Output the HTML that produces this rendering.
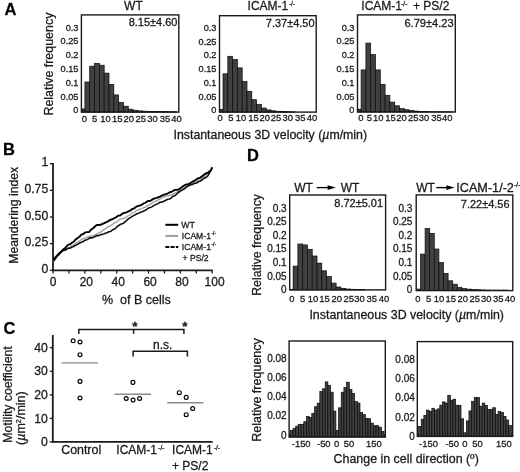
<!DOCTYPE html>
<html><head><meta charset="utf-8"><style>
html,body{margin:0;padding:0;background:#fff;}
body{width:520px;height:472px;overflow:hidden;font-family:"Liberation Sans",sans-serif;}
svg{display:block;filter:grayscale(1) blur(0.4px);}
text{font-family:"Liberation Sans",sans-serif;white-space:pre;stroke:#1a1a1a;stroke-width:0.28px;}
</style></head><body>
<svg width="520" height="472" viewBox="0 0 520 472" font-family="Liberation Sans, sans-serif">
<rect x="0" y="0" width="520" height="472" fill="#fff"/>
<text x="4.40" y="14.70" font-size="16.5" text-anchor="start" fill="#000" font-weight="bold">A</text>
<text x="3.10" y="154.70" font-size="16.5" text-anchor="start" fill="#000" font-weight="bold">B</text>
<text x="3.50" y="334.40" font-size="16.5" text-anchor="start" fill="#000" font-weight="bold">C</text>
<text x="247.00" y="161.10" font-size="16.5" text-anchor="start" fill="#000" font-weight="bold">D</text>
<rect x="82.00" y="108.90" width="2.90" height="3.20" fill="#404040" stroke="#0a0a0a" stroke-width="0.7"/>
<rect x="84.90" y="82.00" width="4.82" height="30.10" fill="#404040" stroke="#0a0a0a" stroke-width="0.7"/>
<rect x="89.72" y="66.20" width="4.82" height="45.90" fill="#404040" stroke="#0a0a0a" stroke-width="0.7"/>
<rect x="94.54" y="63.40" width="4.82" height="48.70" fill="#404040" stroke="#0a0a0a" stroke-width="0.7"/>
<rect x="99.36" y="65.20" width="4.82" height="46.90" fill="#404040" stroke="#0a0a0a" stroke-width="0.7"/>
<rect x="104.18" y="73.10" width="4.82" height="39.00" fill="#404040" stroke="#0a0a0a" stroke-width="0.7"/>
<rect x="109.00" y="84.40" width="4.82" height="27.70" fill="#404040" stroke="#0a0a0a" stroke-width="0.7"/>
<rect x="113.82" y="94.90" width="4.82" height="17.20" fill="#404040" stroke="#0a0a0a" stroke-width="0.7"/>
<rect x="118.64" y="102.30" width="4.82" height="9.80" fill="#404040" stroke="#0a0a0a" stroke-width="0.7"/>
<rect x="123.46" y="106.20" width="4.82" height="5.90" fill="#404040" stroke="#0a0a0a" stroke-width="0.7"/>
<rect x="128.28" y="109.20" width="4.82" height="2.90" fill="#404040" stroke="#0a0a0a" stroke-width="0.7"/>
<rect x="133.10" y="110.30" width="4.82" height="1.80" fill="#404040" stroke="#0a0a0a" stroke-width="0.7"/>
<rect x="137.92" y="110.90" width="4.82" height="1.20" fill="#404040" stroke="#0a0a0a" stroke-width="0.7"/>
<rect x="142.74" y="111.20" width="4.82" height="0.90" fill="#404040" stroke="#0a0a0a" stroke-width="0.7"/>
<rect x="147.56" y="111.40" width="4.82" height="0.70" fill="#404040" stroke="#0a0a0a" stroke-width="0.7"/>
<rect x="152.38" y="111.50" width="4.82" height="0.60" fill="#404040" stroke="#0a0a0a" stroke-width="0.7"/>
<rect x="157.20" y="111.60" width="4.82" height="0.50" fill="#404040" stroke="#0a0a0a" stroke-width="0.7"/>
<rect x="162.02" y="111.60" width="4.82" height="0.50" fill="#404040" stroke="#0a0a0a" stroke-width="0.7"/>
<rect x="166.84" y="111.70" width="4.82" height="0.40" fill="#404040" stroke="#0a0a0a" stroke-width="0.7"/>
<rect x="171.66" y="111.70" width="4.82" height="0.40" fill="#404040" stroke="#0a0a0a" stroke-width="0.7"/>
<rect x="81.40" y="14.90" width="97.40" height="97.20" fill="none" stroke="#1a1a1a" stroke-width="1.4"/>
<text x="0" y="0" font-size="9.2" text-anchor="end" fill="#1a1a1a" transform="translate(78.40 30.70) scale(1 1.045)">0.3</text>
<text x="0" y="0" font-size="9.2" text-anchor="end" fill="#1a1a1a" transform="translate(78.40 44.40) scale(1 1.045)">0.25</text>
<text x="0" y="0" font-size="9.2" text-anchor="end" fill="#1a1a1a" transform="translate(78.40 57.80) scale(1 1.045)">0.2</text>
<text x="0" y="0" font-size="9.2" text-anchor="end" fill="#1a1a1a" transform="translate(78.40 71.50) scale(1 1.045)">0.15</text>
<text x="0" y="0" font-size="9.2" text-anchor="end" fill="#1a1a1a" transform="translate(78.40 85.80) scale(1 1.045)">0.1</text>
<text x="0" y="0" font-size="9.2" text-anchor="end" fill="#1a1a1a" transform="translate(78.40 99.50) scale(1 1.045)">0.05</text>
<text x="0" y="0" font-size="9.2" text-anchor="end" fill="#1a1a1a" transform="translate(78.40 112.90) scale(1 1.045)">0</text>
<text x="84.30" y="122.00" font-size="9.4" text-anchor="middle" fill="#1a1a1a">0</text>
<text x="94.70" y="122.00" font-size="9.4" text-anchor="middle" fill="#1a1a1a">5</text>
<text x="105.40" y="122.00" font-size="9.4" text-anchor="middle" fill="#1a1a1a">10</text>
<text x="117.20" y="122.00" font-size="9.4" text-anchor="middle" fill="#1a1a1a">15</text>
<text x="128.80" y="122.00" font-size="9.4" text-anchor="middle" fill="#1a1a1a">20</text>
<text x="140.80" y="122.00" font-size="9.4" text-anchor="middle" fill="#1a1a1a">25</text>
<text x="152.40" y="122.00" font-size="9.4" text-anchor="middle" fill="#1a1a1a">30</text>
<text x="164.90" y="122.00" font-size="9.4" text-anchor="middle" fill="#1a1a1a">35</text>
<text x="176.40" y="122.00" font-size="9.4" text-anchor="middle" fill="#1a1a1a">40</text>
<text x="133.40" y="9.90" font-size="12" text-anchor="middle" fill="#1a1a1a">WT</text>
<text x="177.50" y="26.40" font-size="10.6" text-anchor="end" fill="#1a1a1a" textLength="48.80" lengthAdjust="spacingAndGlyphs">8.15±4.60</text>
<rect x="220.10" y="109.40" width="2.90" height="2.70" fill="#404040" stroke="#0a0a0a" stroke-width="0.7"/>
<rect x="223.00" y="73.80" width="4.80" height="38.30" fill="#404040" stroke="#0a0a0a" stroke-width="0.7"/>
<rect x="227.80" y="56.30" width="4.80" height="55.80" fill="#404040" stroke="#0a0a0a" stroke-width="0.7"/>
<rect x="232.60" y="59.50" width="4.80" height="52.60" fill="#404040" stroke="#0a0a0a" stroke-width="0.7"/>
<rect x="237.40" y="67.90" width="4.80" height="44.20" fill="#404040" stroke="#0a0a0a" stroke-width="0.7"/>
<rect x="242.20" y="81.50" width="4.80" height="30.60" fill="#404040" stroke="#0a0a0a" stroke-width="0.7"/>
<rect x="247.00" y="91.30" width="4.80" height="20.80" fill="#404040" stroke="#0a0a0a" stroke-width="0.7"/>
<rect x="251.80" y="99.70" width="4.80" height="12.40" fill="#404040" stroke="#0a0a0a" stroke-width="0.7"/>
<rect x="256.60" y="104.50" width="4.80" height="7.60" fill="#404040" stroke="#0a0a0a" stroke-width="0.7"/>
<rect x="261.40" y="108.00" width="4.80" height="4.10" fill="#404040" stroke="#0a0a0a" stroke-width="0.7"/>
<rect x="266.20" y="109.90" width="4.80" height="2.20" fill="#404040" stroke="#0a0a0a" stroke-width="0.7"/>
<rect x="271.00" y="110.80" width="4.80" height="1.30" fill="#404040" stroke="#0a0a0a" stroke-width="0.7"/>
<rect x="275.80" y="111.30" width="4.80" height="0.80" fill="#404040" stroke="#0a0a0a" stroke-width="0.7"/>
<rect x="280.60" y="111.60" width="4.80" height="0.50" fill="#404040" stroke="#0a0a0a" stroke-width="0.7"/>
<rect x="285.40" y="111.70" width="4.80" height="0.40" fill="#404040" stroke="#0a0a0a" stroke-width="0.7"/>
<rect x="290.20" y="111.80" width="4.80" height="0.30" fill="#404040" stroke="#0a0a0a" stroke-width="0.7"/>
<rect x="219.50" y="15.70" width="96.70" height="96.40" fill="none" stroke="#1a1a1a" stroke-width="1.4"/>
<text x="0" y="0" font-size="9.2" text-anchor="end" fill="#1a1a1a" transform="translate(216.40 31.00) scale(1 1.045)">0.3</text>
<text x="0" y="0" font-size="9.2" text-anchor="end" fill="#1a1a1a" transform="translate(216.40 44.70) scale(1 1.045)">0.25</text>
<text x="0" y="0" font-size="9.2" text-anchor="end" fill="#1a1a1a" transform="translate(216.40 58.10) scale(1 1.045)">0.2</text>
<text x="0" y="0" font-size="9.2" text-anchor="end" fill="#1a1a1a" transform="translate(216.40 71.80) scale(1 1.045)">0.15</text>
<text x="0" y="0" font-size="9.2" text-anchor="end" fill="#1a1a1a" transform="translate(216.40 86.10) scale(1 1.045)">0.1</text>
<text x="0" y="0" font-size="9.2" text-anchor="end" fill="#1a1a1a" transform="translate(216.40 99.80) scale(1 1.045)">0.05</text>
<text x="0" y="0" font-size="9.2" text-anchor="end" fill="#1a1a1a" transform="translate(216.40 113.20) scale(1 1.045)">0</text>
<text x="220.00" y="120.60" font-size="9.4" text-anchor="middle" fill="#1a1a1a">0</text>
<text x="230.90" y="120.60" font-size="9.4" text-anchor="middle" fill="#1a1a1a">5</text>
<text x="241.00" y="120.60" font-size="9.4" text-anchor="middle" fill="#1a1a1a">10</text>
<text x="253.50" y="120.60" font-size="9.4" text-anchor="middle" fill="#1a1a1a">15</text>
<text x="264.80" y="120.60" font-size="9.4" text-anchor="middle" fill="#1a1a1a">20</text>
<text x="276.00" y="120.60" font-size="9.4" text-anchor="middle" fill="#1a1a1a">25</text>
<text x="287.80" y="120.60" font-size="9.4" text-anchor="middle" fill="#1a1a1a">30</text>
<text x="300.20" y="120.60" font-size="9.4" text-anchor="middle" fill="#1a1a1a">35</text>
<text x="312.00" y="120.60" font-size="9.4" text-anchor="middle" fill="#1a1a1a">40</text>
<text x="247.60" y="9.80" font-size="12" text-anchor="start" fill="#1a1a1a">ICAM-1</text>
<text x="288.90" y="5.60" font-size="6.5" text-anchor="start" fill="#1a1a1a">-/-</text>
<text x="314.60" y="26.60" font-size="10.6" text-anchor="end" fill="#1a1a1a" textLength="48.80" lengthAdjust="spacingAndGlyphs">7.37±4.50</text>
<rect x="358.10" y="109.20" width="3.00" height="2.80" fill="#404040" stroke="#0a0a0a" stroke-width="0.7"/>
<rect x="361.10" y="69.90" width="4.80" height="42.10" fill="#404040" stroke="#0a0a0a" stroke-width="0.7"/>
<rect x="365.90" y="43.10" width="4.80" height="68.90" fill="#404040" stroke="#0a0a0a" stroke-width="0.7"/>
<rect x="370.70" y="54.60" width="4.80" height="57.40" fill="#404040" stroke="#0a0a0a" stroke-width="0.7"/>
<rect x="375.50" y="69.90" width="4.80" height="42.10" fill="#404040" stroke="#0a0a0a" stroke-width="0.7"/>
<rect x="380.30" y="84.30" width="4.80" height="27.70" fill="#404040" stroke="#0a0a0a" stroke-width="0.7"/>
<rect x="385.10" y="95.30" width="4.80" height="16.70" fill="#404040" stroke="#0a0a0a" stroke-width="0.7"/>
<rect x="389.90" y="102.10" width="4.80" height="9.90" fill="#404040" stroke="#0a0a0a" stroke-width="0.7"/>
<rect x="394.70" y="105.80" width="4.80" height="6.20" fill="#404040" stroke="#0a0a0a" stroke-width="0.7"/>
<rect x="399.50" y="108.50" width="4.80" height="3.50" fill="#404040" stroke="#0a0a0a" stroke-width="0.7"/>
<rect x="404.30" y="109.70" width="4.80" height="2.30" fill="#404040" stroke="#0a0a0a" stroke-width="0.7"/>
<rect x="409.10" y="110.60" width="4.80" height="1.40" fill="#404040" stroke="#0a0a0a" stroke-width="0.7"/>
<rect x="413.90" y="111.10" width="4.80" height="0.90" fill="#404040" stroke="#0a0a0a" stroke-width="0.7"/>
<rect x="418.70" y="111.40" width="4.80" height="0.60" fill="#404040" stroke="#0a0a0a" stroke-width="0.7"/>
<rect x="423.50" y="111.60" width="4.80" height="0.40" fill="#404040" stroke="#0a0a0a" stroke-width="0.7"/>
<rect x="428.30" y="111.70" width="4.80" height="0.30" fill="#404040" stroke="#0a0a0a" stroke-width="0.7"/>
<rect x="433.10" y="111.80" width="4.80" height="0.20" fill="#404040" stroke="#0a0a0a" stroke-width="0.7"/>
<rect x="437.90" y="111.80" width="4.80" height="0.20" fill="#404040" stroke="#0a0a0a" stroke-width="0.7"/>
<rect x="442.70" y="111.80" width="4.80" height="0.20" fill="#404040" stroke="#0a0a0a" stroke-width="0.7"/>
<rect x="447.50" y="111.80" width="4.80" height="0.20" fill="#404040" stroke="#0a0a0a" stroke-width="0.7"/>
<rect x="357.50" y="14.90" width="97.80" height="97.10" fill="none" stroke="#1a1a1a" stroke-width="1.4"/>
<text x="0" y="0" font-size="9.2" text-anchor="end" fill="#1a1a1a" transform="translate(354.40 30.70) scale(1 1.045)">0.3</text>
<text x="0" y="0" font-size="9.2" text-anchor="end" fill="#1a1a1a" transform="translate(354.40 44.40) scale(1 1.045)">0.25</text>
<text x="0" y="0" font-size="9.2" text-anchor="end" fill="#1a1a1a" transform="translate(354.40 57.80) scale(1 1.045)">0.2</text>
<text x="0" y="0" font-size="9.2" text-anchor="end" fill="#1a1a1a" transform="translate(354.40 71.50) scale(1 1.045)">0.15</text>
<text x="0" y="0" font-size="9.2" text-anchor="end" fill="#1a1a1a" transform="translate(354.40 85.80) scale(1 1.045)">0.1</text>
<text x="0" y="0" font-size="9.2" text-anchor="end" fill="#1a1a1a" transform="translate(354.40 99.50) scale(1 1.045)">0.05</text>
<text x="0" y="0" font-size="9.2" text-anchor="end" fill="#1a1a1a" transform="translate(354.40 112.90) scale(1 1.045)">0</text>
<text x="360.80" y="120.50" font-size="9.4" text-anchor="middle" fill="#1a1a1a">0</text>
<text x="369.40" y="120.50" font-size="9.4" text-anchor="middle" fill="#1a1a1a">5</text>
<text x="378.20" y="120.50" font-size="9.4" text-anchor="middle" fill="#1a1a1a">10</text>
<text x="390.40" y="120.50" font-size="9.4" text-anchor="middle" fill="#1a1a1a">15</text>
<text x="401.60" y="120.50" font-size="9.4" text-anchor="middle" fill="#1a1a1a">20</text>
<text x="413.20" y="120.50" font-size="9.4" text-anchor="middle" fill="#1a1a1a">25</text>
<text x="423.90" y="120.50" font-size="9.4" text-anchor="middle" fill="#1a1a1a">30</text>
<text x="436.50" y="120.50" font-size="9.4" text-anchor="middle" fill="#1a1a1a">35</text>
<text x="447.30" y="120.50" font-size="9.4" text-anchor="middle" fill="#1a1a1a">40</text>
<text x="361.30" y="9.80" font-size="12" text-anchor="start" fill="#1a1a1a">ICAM-1</text>
<text x="401.20" y="5.60" font-size="6.5" text-anchor="start" fill="#1a1a1a">-/-</text>
<text x="413.00" y="9.80" font-size="12" text-anchor="start" fill="#1a1a1a">+ PS/2</text>
<text x="453.60" y="26.60" font-size="10.6" text-anchor="end" fill="#1a1a1a" textLength="49.20" lengthAdjust="spacingAndGlyphs">6.79±4.23</text>
<text x="52.80" y="64.10" font-size="12.3" text-anchor="middle" fill="#1a1a1a" textLength="103.00" lengthAdjust="spacingAndGlyphs" transform="rotate(-90 52.80 64.10)">Relative frequency</text>
<text x="173.5" y="138.7" font-size="12.3" fill="#1a1a1a" textLength="193.6" lengthAdjust="spacingAndGlyphs">Instantaneous 3D velocity (<tspan font-style="italic">µ</tspan>m/min)</text>
<line x1="53.00" y1="163.00" x2="53.00" y2="271.20" stroke="#1a1a1a" stroke-width="1.8" />
<line x1="52.10" y1="270.30" x2="212.60" y2="270.30" stroke="#1a1a1a" stroke-width="1.8" />
<line x1="49.80" y1="270.30" x2="53.00" y2="270.30" stroke="#1a1a1a" stroke-width="1.3" />
<line x1="49.80" y1="243.65" x2="53.00" y2="243.65" stroke="#1a1a1a" stroke-width="1.3" />
<line x1="49.80" y1="217.00" x2="53.00" y2="217.00" stroke="#1a1a1a" stroke-width="1.3" />
<line x1="49.80" y1="190.35" x2="53.00" y2="190.35" stroke="#1a1a1a" stroke-width="1.3" />
<line x1="49.80" y1="163.70" x2="53.00" y2="163.70" stroke="#1a1a1a" stroke-width="1.3" />
<line x1="53.00" y1="270.30" x2="53.00" y2="273.50" stroke="#1a1a1a" stroke-width="1.3" />
<line x1="68.92" y1="270.30" x2="68.92" y2="273.50" stroke="#1a1a1a" stroke-width="1.3" />
<line x1="84.84" y1="270.30" x2="84.84" y2="273.50" stroke="#1a1a1a" stroke-width="1.3" />
<line x1="100.76" y1="270.30" x2="100.76" y2="273.50" stroke="#1a1a1a" stroke-width="1.3" />
<line x1="116.68" y1="270.30" x2="116.68" y2="273.50" stroke="#1a1a1a" stroke-width="1.3" />
<line x1="132.60" y1="270.30" x2="132.60" y2="273.50" stroke="#1a1a1a" stroke-width="1.3" />
<line x1="148.52" y1="270.30" x2="148.52" y2="273.50" stroke="#1a1a1a" stroke-width="1.3" />
<line x1="164.44" y1="270.30" x2="164.44" y2="273.50" stroke="#1a1a1a" stroke-width="1.3" />
<line x1="180.36" y1="270.30" x2="180.36" y2="273.50" stroke="#1a1a1a" stroke-width="1.3" />
<line x1="196.28" y1="270.30" x2="196.28" y2="273.50" stroke="#1a1a1a" stroke-width="1.3" />
<line x1="212.20" y1="270.30" x2="212.20" y2="273.50" stroke="#1a1a1a" stroke-width="1.3" />
<text x="48.20" y="272.90" font-size="12.2" text-anchor="end" fill="#1a1a1a">0</text>
<text x="48.20" y="246.25" font-size="12.2" text-anchor="end" fill="#1a1a1a">0.25</text>
<text x="48.20" y="219.60" font-size="12.2" text-anchor="end" fill="#1a1a1a">0.50</text>
<text x="48.20" y="192.95" font-size="12.2" text-anchor="end" fill="#1a1a1a">0.75</text>
<text x="48.20" y="166.30" font-size="12.2" text-anchor="end" fill="#1a1a1a">1</text>
<text x="53.10" y="286.00" font-size="12.0" text-anchor="middle" fill="#1a1a1a">0</text>
<text x="86.34" y="286.00" font-size="12.0" text-anchor="middle" fill="#1a1a1a">20</text>
<text x="118.18" y="286.00" font-size="12.0" text-anchor="middle" fill="#1a1a1a">40</text>
<text x="150.12" y="286.00" font-size="12.0" text-anchor="middle" fill="#1a1a1a">60</text>
<text x="181.96" y="286.00" font-size="12.0" text-anchor="middle" fill="#1a1a1a">80</text>
<text x="214.60" y="286.00" font-size="12.0" text-anchor="middle" fill="#1a1a1a">100</text>
<text x="102.00" y="303.80" font-size="12.2" text-anchor="start" fill="#1a1a1a" textLength="68.80" lengthAdjust="spacingAndGlyphs">%  of B cells</text>
<text x="18.30" y="215.30" font-size="12.2" text-anchor="middle" fill="#1a1a1a" textLength="96.70" lengthAdjust="spacingAndGlyphs" transform="rotate(-90 18.30 215.30)">Meandering index</text>
<polyline points="53.40,261.32 55.20,259.06 57.00,256.19 58.60,254.46 60.20,253.23 61.90,252.04 63.60,250.87 65.30,249.49 67.00,248.57 68.67,247.70 70.35,246.81 72.03,245.64 73.70,244.95 75.62,243.45 77.55,242.21 79.48,240.92 81.40,239.41 83.13,238.62 84.86,238.03 86.59,237.39 88.31,236.72 90.04,236.20 91.77,235.99 93.50,235.37 95.20,234.58 96.90,234.09 98.60,233.00 100.30,232.18 102.00,231.12 103.67,229.79 105.35,228.83 107.03,227.52 108.70,226.61 110.62,225.77 112.55,224.37 114.48,222.85 116.40,222.18 118.20,220.76 120.00,219.36 121.67,218.98 123.33,218.38 125.00,217.90 126.75,216.45 128.50,215.74 130.18,214.70 131.86,213.12 133.54,212.52 135.22,211.47 136.90,210.27 138.60,209.64 140.30,208.93 142.00,208.56 143.70,207.58 145.40,207.13 147.10,205.80 148.80,205.17 150.50,204.18 152.20,202.87 153.90,201.95 155.93,201.19 157.97,200.06 160.00,198.89 161.75,197.81 163.50,196.98 165.18,196.74 166.86,195.87 168.54,195.89 170.22,194.94 171.90,194.89 173.60,193.53 175.30,193.04 177.00,191.92 178.70,190.84 180.40,189.91 182.10,189.09 183.80,188.12 185.50,187.01 187.20,186.02 188.90,185.31 190.93,184.60 192.97,183.39 195.00,182.00 196.75,181.45 198.50,180.31 200.25,179.36 202.00,177.78 203.83,176.84 205.67,175.02 207.50,174.11 208.75,172.59 210.00,171.31 211.00,169.76 212.00,167.50" fill="none" stroke="#9a9a9a" stroke-width="1.3" stroke-linejoin="round"/>
<polyline points="53.40,261.26 55.20,259.04 57.00,256.38 58.60,254.84 60.20,253.11 61.45,251.51 62.70,250.36 64.85,250.30 67.00,248.98 68.67,248.21 70.35,248.15 72.03,246.92 73.70,246.50 75.70,245.18 77.70,244.33 79.70,242.89 81.47,242.32 83.23,241.53 85.00,240.22 86.67,239.72 88.33,238.95 90.00,237.71 91.75,237.88 93.50,237.28 95.20,236.42 96.90,235.58 98.60,235.73 100.30,234.78 102.00,234.40 103.68,233.96 105.36,233.23 107.04,232.84 108.72,231.79 110.40,231.57 112.22,230.05 114.04,229.29 115.86,228.04 117.68,226.14 119.50,224.97 121.33,223.91 123.17,223.45 125.00,221.84 126.75,220.46 128.50,218.62 130.18,217.79 131.86,216.66 133.54,215.61 135.22,214.80 136.90,213.78 138.60,213.30 140.30,212.34 142.00,211.81 143.70,210.98 145.40,210.34 147.10,209.13 148.80,207.76 150.50,207.46 152.20,206.64 153.90,205.66 155.93,204.43 157.97,203.63 160.00,202.24 161.93,202.10 163.85,201.17 165.77,200.21 167.70,199.31 169.40,199.00 171.10,198.10 172.80,196.27 174.50,195.89 176.20,194.52 178.30,192.59 180.40,191.01 182.70,189.84 185.00,188.34 186.95,186.44 188.90,185.80 190.60,184.62 192.30,184.56 194.00,183.55 195.60,183.30 197.20,182.65 198.80,181.48 200.40,181.19 202.00,179.83 203.97,178.35 205.93,177.56 207.90,175.78 208.70,174.33 209.50,172.92 210.75,170.60 212.00,168.00" fill="none" stroke="#111" stroke-width="1.6" stroke-linejoin="round"/>
<polyline points="53.40,258.97 54.95,257.96 56.50,256.24 58.35,254.03 60.20,252.50 61.85,250.80 63.50,249.34 65.25,247.96 67.00,245.83 68.67,244.60 70.35,244.15 72.03,242.61 73.70,241.74 75.70,239.35 77.70,238.05 79.70,236.60 80.95,234.91 82.20,234.30 83.60,233.81 85.00,232.58 86.70,232.12 88.40,232.14 89.20,231.90 90.00,230.79 91.72,229.24 93.45,228.03 95.18,226.28 96.90,225.05 98.60,224.98 100.30,224.76 102.00,224.26 103.67,223.41 105.35,222.55 107.03,221.91 108.70,220.91 110.62,219.62 112.55,219.30 114.48,218.00 116.40,217.03 118.20,215.67 120.00,215.44 121.15,214.77 122.30,213.56 124.37,212.85 126.43,212.30 128.50,211.39 130.18,210.65 131.86,209.25 133.54,208.68 135.22,207.59 136.90,206.32 138.60,205.82 140.30,205.32 142.00,204.53 143.70,203.46 145.40,202.78 147.10,201.52 148.80,200.95 150.50,200.69 152.20,199.58 153.90,198.61 155.93,198.11 157.97,197.42 160.00,196.56 161.75,195.59 163.50,194.95 165.18,194.33 166.86,193.89 168.54,192.98 170.22,192.18 171.90,191.59 173.60,190.50 175.30,189.83 177.00,189.74 178.70,189.31 180.40,188.28 182.70,186.60 185.00,184.90 187.00,184.30 189.00,183.83 191.25,182.44 193.50,181.04 195.20,180.36 196.90,178.84 198.60,178.13 200.30,177.57 202.00,176.27 203.67,175.03 205.33,173.73 207.00,172.84 208.30,172.56 209.60,171.06 210.45,170.71 211.30,169.69 211.65,168.70 212.00,167.30" fill="none" stroke="#000" stroke-width="1.9" stroke-linejoin="round"/>
<line x1="165.40" y1="224.80" x2="178.20" y2="224.80" stroke="#000" stroke-width="2.0" />
<line x1="165.40" y1="235.90" x2="178.20" y2="235.90" stroke="#9a9a9a" stroke-width="2.0" />
<line x1="165.40" y1="246.90" x2="178.20" y2="246.90" stroke="#000" stroke-width="2.0" stroke-dasharray="3.9 1.3"/>
<text x="181.20" y="228.10" font-size="8.8" text-anchor="start" fill="#1a1a1a">WT</text>
<text x="181.80" y="239.20" font-size="8.6" text-anchor="start" fill="#1a1a1a">ICAM-1</text>
<text x="211.40" y="235.20" font-size="5.2" text-anchor="start" fill="#1a1a1a">-/-</text>
<text x="181.80" y="250.20" font-size="8.6" text-anchor="start" fill="#1a1a1a">ICAM-1</text>
<text x="211.40" y="246.20" font-size="5.2" text-anchor="start" fill="#1a1a1a">-/-</text>
<text x="182.60" y="260.60" font-size="8.6" text-anchor="start" fill="#1a1a1a">+ PS/2</text>
<line x1="52.80" y1="335.00" x2="52.80" y2="442.80" stroke="#1a1a1a" stroke-width="1.8" />
<line x1="51.90" y1="441.90" x2="212.60" y2="441.90" stroke="#1a1a1a" stroke-width="1.8" />
<line x1="49.80" y1="441.90" x2="52.80" y2="441.90" stroke="#1a1a1a" stroke-width="1.3" />
<text x="47.80" y="446.10" font-size="12.2" text-anchor="end" fill="#1a1a1a">0</text>
<line x1="49.80" y1="418.35" x2="52.80" y2="418.35" stroke="#1a1a1a" stroke-width="1.3" />
<text x="47.80" y="422.55" font-size="12.2" text-anchor="end" fill="#1a1a1a">10</text>
<line x1="49.80" y1="394.80" x2="52.80" y2="394.80" stroke="#1a1a1a" stroke-width="1.3" />
<text x="47.80" y="399.00" font-size="12.2" text-anchor="end" fill="#1a1a1a">20</text>
<line x1="49.80" y1="371.25" x2="52.80" y2="371.25" stroke="#1a1a1a" stroke-width="1.3" />
<text x="47.80" y="375.45" font-size="12.2" text-anchor="end" fill="#1a1a1a">30</text>
<line x1="49.80" y1="347.70" x2="52.80" y2="347.70" stroke="#1a1a1a" stroke-width="1.3" />
<text x="47.80" y="351.90" font-size="12.2" text-anchor="end" fill="#1a1a1a">40</text>
<circle cx="73.20" cy="340.80" r="1.95" fill="none" stroke="#000" stroke-width="1.15"/>
<circle cx="80.00" cy="342.00" r="1.95" fill="none" stroke="#000" stroke-width="1.15"/>
<circle cx="80.00" cy="354.70" r="1.95" fill="none" stroke="#000" stroke-width="1.15"/>
<circle cx="80.00" cy="381.40" r="1.95" fill="none" stroke="#000" stroke-width="1.15"/>
<circle cx="80.00" cy="398.00" r="1.95" fill="none" stroke="#000" stroke-width="1.15"/>
<circle cx="132.90" cy="382.40" r="1.95" fill="none" stroke="#000" stroke-width="1.15"/>
<circle cx="126.20" cy="398.50" r="1.95" fill="none" stroke="#000" stroke-width="1.15"/>
<circle cx="133.10" cy="400.10" r="1.95" fill="none" stroke="#000" stroke-width="1.15"/>
<circle cx="139.60" cy="398.50" r="1.95" fill="none" stroke="#000" stroke-width="1.15"/>
<circle cx="179.30" cy="392.70" r="1.95" fill="none" stroke="#000" stroke-width="1.15"/>
<circle cx="186.20" cy="397.40" r="1.95" fill="none" stroke="#000" stroke-width="1.15"/>
<circle cx="192.70" cy="408.50" r="1.95" fill="none" stroke="#000" stroke-width="1.15"/>
<circle cx="186.20" cy="414.70" r="1.95" fill="none" stroke="#000" stroke-width="1.15"/>
<line x1="61.50" y1="362.90" x2="98.00" y2="362.90" stroke="#8a8a8a" stroke-width="1.4" />
<line x1="114.60" y1="394.20" x2="151.10" y2="394.20" stroke="#8a8a8a" stroke-width="1.4" />
<line x1="167.30" y1="402.70" x2="203.50" y2="402.70" stroke="#8a8a8a" stroke-width="1.4" />
<polyline points="78.8,333.9 78.8,329.6 183.9,329.6 183.9,333.9" fill="none" stroke="#1a1a1a" stroke-width="1.5"/>
<line x1="133.60" y1="329.60" x2="133.60" y2="333.90" stroke="#1a1a1a" stroke-width="1.5" />
<text x="135.00" y="331.20" font-size="13.5" text-anchor="middle" fill="#1a1a1a" font-weight="bold">*</text>
<text x="184.90" y="331.20" font-size="13.5" text-anchor="middle" fill="#1a1a1a" font-weight="bold">*</text>
<polyline points="133.1,356.5 133.1,351.2 187.4,351.2 187.4,356.5" fill="none" stroke="#1a1a1a" stroke-width="1.5"/>
<text x="162.70" y="349.20" font-size="12.0" text-anchor="middle" fill="#1a1a1a">n.s.</text>
<text x="61.20" y="453.80" font-size="12.4" text-anchor="start" fill="#1a1a1a">Control</text>
<text x="116.30" y="454.40" font-size="12.0" text-anchor="start" fill="#1a1a1a">ICAM-1</text>
<text x="158.30" y="450.00" font-size="6.5" text-anchor="start" fill="#1a1a1a">-/-</text>
<text x="172.10" y="454.40" font-size="12.0" text-anchor="start" fill="#1a1a1a">ICAM-1</text>
<text x="213.90" y="450.00" font-size="6.5" text-anchor="start" fill="#1a1a1a">-/-</text>
<text x="172.00" y="470.40" font-size="12.0" text-anchor="start" fill="#1a1a1a">+ PS/2</text>
<text x="12.30" y="394.50" font-size="12.3" text-anchor="middle" fill="#1a1a1a" textLength="96.40" lengthAdjust="spacingAndGlyphs" transform="rotate(-90 12.30 394.50)">Motility coefficient</text>
<text x="25.3" y="418.1" font-size="12.2" text-anchor="middle" fill="#1a1a1a" transform="rotate(-90 25.3 418.1)" textLength="53.8" lengthAdjust="spacingAndGlyphs">(<tspan font-style="italic">µ</tspan>m<tspan font-size="7" dy="-4">2</tspan><tspan dy="4">/min)</tspan></text>
<text x="294.20" y="191.60" font-size="12" text-anchor="start" fill="#1a1a1a">WT</text>
<line x1="316.70" y1="187.60" x2="329.80" y2="187.60" stroke="#000" stroke-width="1.35" />
<polygon points="335.80,187.60 327.60,185.20 327.60,190.00" fill="#000"/>
<text x="340.80" y="191.60" font-size="12" text-anchor="start" fill="#1a1a1a">WT</text>
<text x="416.30" y="191.60" font-size="12" text-anchor="start" fill="#1a1a1a">WT</text>
<line x1="436.30" y1="187.60" x2="448.60" y2="187.60" stroke="#000" stroke-width="1.35" />
<polygon points="454.60,187.60 446.40,185.20 446.40,190.00" fill="#000"/>
<text x="456.30" y="191.60" font-size="12.4" text-anchor="start" fill="#1a1a1a" textLength="57.60" lengthAdjust="spacingAndGlyphs">ICAM-1/-2</text>
<text x="514.20" y="186.60" font-size="6.5" text-anchor="start" fill="#1a1a1a">-/-</text>
<rect x="290.30" y="289.50" width="2.80" height="0.40" fill="#404040" stroke="#0a0a0a" stroke-width="0.7"/>
<rect x="293.10" y="266.10" width="4.78" height="23.80" fill="#404040" stroke="#0a0a0a" stroke-width="0.7"/>
<rect x="297.88" y="244.00" width="4.78" height="45.90" fill="#404040" stroke="#0a0a0a" stroke-width="0.7"/>
<rect x="302.66" y="244.90" width="4.78" height="45.00" fill="#404040" stroke="#0a0a0a" stroke-width="0.7"/>
<rect x="307.44" y="249.30" width="4.78" height="40.60" fill="#404040" stroke="#0a0a0a" stroke-width="0.7"/>
<rect x="312.22" y="256.00" width="4.78" height="33.90" fill="#404040" stroke="#0a0a0a" stroke-width="0.7"/>
<rect x="317.00" y="263.10" width="4.78" height="26.80" fill="#404040" stroke="#0a0a0a" stroke-width="0.7"/>
<rect x="321.78" y="270.80" width="4.78" height="19.10" fill="#404040" stroke="#0a0a0a" stroke-width="0.7"/>
<rect x="326.56" y="276.60" width="4.78" height="13.30" fill="#404040" stroke="#0a0a0a" stroke-width="0.7"/>
<rect x="331.34" y="283.10" width="4.78" height="6.80" fill="#404040" stroke="#0a0a0a" stroke-width="0.7"/>
<rect x="336.12" y="287.00" width="4.78" height="2.90" fill="#404040" stroke="#0a0a0a" stroke-width="0.7"/>
<rect x="340.90" y="288.30" width="4.78" height="1.60" fill="#404040" stroke="#0a0a0a" stroke-width="0.7"/>
<rect x="345.68" y="289.00" width="4.78" height="0.90" fill="#404040" stroke="#0a0a0a" stroke-width="0.7"/>
<rect x="350.46" y="289.30" width="4.78" height="0.60" fill="#404040" stroke="#0a0a0a" stroke-width="0.7"/>
<rect x="355.24" y="289.50" width="4.78" height="0.40" fill="#404040" stroke="#0a0a0a" stroke-width="0.7"/>
<rect x="360.02" y="289.60" width="4.78" height="0.30" fill="#404040" stroke="#0a0a0a" stroke-width="0.7"/>
<rect x="289.70" y="195.00" width="95.90" height="94.90" fill="none" stroke="#1a1a1a" stroke-width="1.4"/>
<text x="286.60" y="211.60" font-size="10.0" text-anchor="end" fill="#1a1a1a">0.3</text>
<text x="286.60" y="225.40" font-size="10.0" text-anchor="end" fill="#1a1a1a">0.25</text>
<text x="286.60" y="238.80" font-size="10.0" text-anchor="end" fill="#1a1a1a">0.2</text>
<text x="286.60" y="252.30" font-size="10.0" text-anchor="end" fill="#1a1a1a">0.15</text>
<text x="286.60" y="266.10" font-size="10.0" text-anchor="end" fill="#1a1a1a">0.1</text>
<text x="286.60" y="279.60" font-size="10.0" text-anchor="end" fill="#1a1a1a">0.05</text>
<text x="286.60" y="292.60" font-size="10.0" text-anchor="end" fill="#1a1a1a">0</text>
<text x="291.80" y="301.60" font-size="9.4" text-anchor="middle" fill="#1a1a1a">0</text>
<text x="302.50" y="301.60" font-size="9.4" text-anchor="middle" fill="#1a1a1a">5</text>
<text x="312.90" y="301.60" font-size="9.4" text-anchor="middle" fill="#1a1a1a">10</text>
<text x="324.60" y="301.60" font-size="9.4" text-anchor="middle" fill="#1a1a1a">15</text>
<text x="336.80" y="301.60" font-size="9.4" text-anchor="middle" fill="#1a1a1a">20</text>
<text x="348.70" y="301.60" font-size="9.4" text-anchor="middle" fill="#1a1a1a">25</text>
<text x="359.50" y="301.60" font-size="9.4" text-anchor="middle" fill="#1a1a1a">30</text>
<text x="371.80" y="301.60" font-size="9.4" text-anchor="middle" fill="#1a1a1a">35</text>
<text x="384.10" y="301.60" font-size="9.4" text-anchor="middle" fill="#1a1a1a">40</text>
<text x="383.10" y="207.30" font-size="10.6" text-anchor="end" fill="#1a1a1a" textLength="48.80" lengthAdjust="spacingAndGlyphs">8.72±5.01</text>
<rect x="416.60" y="289.10" width="3.90" height="1.50" fill="#404040" stroke="#0a0a0a" stroke-width="0.7"/>
<rect x="420.50" y="254.10" width="4.60" height="36.50" fill="#404040" stroke="#0a0a0a" stroke-width="0.7"/>
<rect x="425.10" y="228.50" width="4.60" height="62.10" fill="#404040" stroke="#0a0a0a" stroke-width="0.7"/>
<rect x="429.70" y="233.40" width="4.60" height="57.20" fill="#404040" stroke="#0a0a0a" stroke-width="0.7"/>
<rect x="434.30" y="249.00" width="4.60" height="41.60" fill="#404040" stroke="#0a0a0a" stroke-width="0.7"/>
<rect x="438.90" y="262.40" width="4.60" height="28.20" fill="#404040" stroke="#0a0a0a" stroke-width="0.7"/>
<rect x="443.50" y="273.50" width="4.60" height="17.10" fill="#404040" stroke="#0a0a0a" stroke-width="0.7"/>
<rect x="448.10" y="280.80" width="4.60" height="9.80" fill="#404040" stroke="#0a0a0a" stroke-width="0.7"/>
<rect x="452.70" y="284.20" width="4.60" height="6.40" fill="#404040" stroke="#0a0a0a" stroke-width="0.7"/>
<rect x="457.30" y="287.30" width="4.60" height="3.30" fill="#404040" stroke="#0a0a0a" stroke-width="0.7"/>
<rect x="461.90" y="288.60" width="4.60" height="2.00" fill="#404040" stroke="#0a0a0a" stroke-width="0.7"/>
<rect x="466.50" y="289.10" width="4.60" height="1.50" fill="#404040" stroke="#0a0a0a" stroke-width="0.7"/>
<rect x="471.10" y="289.50" width="4.60" height="1.10" fill="#404040" stroke="#0a0a0a" stroke-width="0.7"/>
<rect x="475.70" y="289.70" width="4.60" height="0.90" fill="#404040" stroke="#0a0a0a" stroke-width="0.7"/>
<rect x="480.30" y="289.90" width="4.60" height="0.70" fill="#404040" stroke="#0a0a0a" stroke-width="0.7"/>
<rect x="484.90" y="290.00" width="4.60" height="0.60" fill="#404040" stroke="#0a0a0a" stroke-width="0.7"/>
<rect x="489.50" y="290.10" width="4.60" height="0.50" fill="#404040" stroke="#0a0a0a" stroke-width="0.7"/>
<rect x="494.10" y="290.10" width="4.60" height="0.50" fill="#404040" stroke="#0a0a0a" stroke-width="0.7"/>
<rect x="498.70" y="290.10" width="4.60" height="0.50" fill="#404040" stroke="#0a0a0a" stroke-width="0.7"/>
<rect x="503.30" y="290.10" width="4.60" height="0.50" fill="#404040" stroke="#0a0a0a" stroke-width="0.7"/>
<rect x="416.20" y="194.90" width="96.60" height="95.70" fill="none" stroke="#1a1a1a" stroke-width="1.4"/>
<text x="412.40" y="211.60" font-size="10.0" text-anchor="end" fill="#1a1a1a">0.3</text>
<text x="412.40" y="225.40" font-size="10.0" text-anchor="end" fill="#1a1a1a">0.25</text>
<text x="412.40" y="238.80" font-size="10.0" text-anchor="end" fill="#1a1a1a">0.2</text>
<text x="412.40" y="252.30" font-size="10.0" text-anchor="end" fill="#1a1a1a">0.15</text>
<text x="412.40" y="266.10" font-size="10.0" text-anchor="end" fill="#1a1a1a">0.1</text>
<text x="412.40" y="279.60" font-size="10.0" text-anchor="end" fill="#1a1a1a">0.05</text>
<text x="412.40" y="292.60" font-size="10.0" text-anchor="end" fill="#1a1a1a">0</text>
<text x="417.80" y="301.60" font-size="9.4" text-anchor="middle" fill="#1a1a1a">0</text>
<text x="428.50" y="301.60" font-size="9.4" text-anchor="middle" fill="#1a1a1a">5</text>
<text x="439.10" y="301.60" font-size="9.4" text-anchor="middle" fill="#1a1a1a">10</text>
<text x="450.80" y="301.60" font-size="9.4" text-anchor="middle" fill="#1a1a1a">15</text>
<text x="462.80" y="301.60" font-size="9.4" text-anchor="middle" fill="#1a1a1a">20</text>
<text x="474.70" y="301.60" font-size="9.4" text-anchor="middle" fill="#1a1a1a">25</text>
<text x="486.30" y="301.60" font-size="9.4" text-anchor="middle" fill="#1a1a1a">30</text>
<text x="498.30" y="301.60" font-size="9.4" text-anchor="middle" fill="#1a1a1a">35</text>
<text x="510.00" y="301.60" font-size="9.4" text-anchor="middle" fill="#1a1a1a">40</text>
<text x="509.60" y="207.60" font-size="10.6" text-anchor="end" fill="#1a1a1a" textLength="48.80" lengthAdjust="spacingAndGlyphs">7.22±4.56</text>
<text x="261.30" y="244.90" font-size="12.3" text-anchor="middle" fill="#1a1a1a" textLength="101.70" lengthAdjust="spacingAndGlyphs" transform="rotate(-90 261.30 244.90)">Relative frequency</text>
<text x="309.4" y="318.7" font-size="12.3" fill="#1a1a1a" textLength="194.6" lengthAdjust="spacingAndGlyphs">Instantaneous 3D velocity (<tspan font-style="italic">µ</tspan>m/min)</text>
<rect x="289.60" y="434.60" width="0.80" height="2.40" fill="#404040" stroke="#0a0a0a" stroke-width="0.7"/>
<rect x="290.40" y="430.60" width="2.68" height="6.40" fill="#404040" stroke="#0a0a0a" stroke-width="0.7"/>
<rect x="293.08" y="428.30" width="2.68" height="8.70" fill="#404040" stroke="#0a0a0a" stroke-width="0.7"/>
<rect x="295.75" y="426.10" width="2.68" height="10.90" fill="#404040" stroke="#0a0a0a" stroke-width="0.7"/>
<rect x="298.43" y="424.30" width="2.68" height="12.70" fill="#404040" stroke="#0a0a0a" stroke-width="0.7"/>
<rect x="301.10" y="424.30" width="2.68" height="12.70" fill="#404040" stroke="#0a0a0a" stroke-width="0.7"/>
<rect x="303.78" y="421.70" width="2.68" height="15.30" fill="#404040" stroke="#0a0a0a" stroke-width="0.7"/>
<rect x="306.46" y="416.50" width="2.68" height="20.50" fill="#404040" stroke="#0a0a0a" stroke-width="0.7"/>
<rect x="309.13" y="417.60" width="2.68" height="19.40" fill="#404040" stroke="#0a0a0a" stroke-width="0.7"/>
<rect x="311.81" y="413.50" width="2.68" height="23.50" fill="#404040" stroke="#0a0a0a" stroke-width="0.7"/>
<rect x="314.48" y="406.80" width="2.68" height="30.20" fill="#404040" stroke="#0a0a0a" stroke-width="0.7"/>
<rect x="317.16" y="403.20" width="2.68" height="33.80" fill="#404040" stroke="#0a0a0a" stroke-width="0.7"/>
<rect x="319.84" y="391.50" width="2.68" height="45.50" fill="#404040" stroke="#0a0a0a" stroke-width="0.7"/>
<rect x="322.51" y="388.80" width="2.68" height="48.20" fill="#404040" stroke="#0a0a0a" stroke-width="0.7"/>
<rect x="325.19" y="381.90" width="2.68" height="55.10" fill="#404040" stroke="#0a0a0a" stroke-width="0.7"/>
<rect x="327.86" y="385.30" width="2.68" height="51.70" fill="#404040" stroke="#0a0a0a" stroke-width="0.7"/>
<rect x="330.54" y="392.20" width="2.68" height="44.80" fill="#404040" stroke="#0a0a0a" stroke-width="0.7"/>
<rect x="333.22" y="411.10" width="2.68" height="25.90" fill="#404040" stroke="#0a0a0a" stroke-width="0.7"/>
<rect x="335.89" y="430.30" width="2.68" height="6.70" fill="#404040" stroke="#0a0a0a" stroke-width="0.7"/>
<rect x="338.57" y="407.80" width="2.68" height="29.20" fill="#404040" stroke="#0a0a0a" stroke-width="0.7"/>
<rect x="341.24" y="392.20" width="2.68" height="44.80" fill="#404040" stroke="#0a0a0a" stroke-width="0.7"/>
<rect x="343.92" y="387.40" width="2.68" height="49.60" fill="#404040" stroke="#0a0a0a" stroke-width="0.7"/>
<rect x="346.60" y="382.20" width="2.68" height="54.80" fill="#404040" stroke="#0a0a0a" stroke-width="0.7"/>
<rect x="349.27" y="389.50" width="2.68" height="47.50" fill="#404040" stroke="#0a0a0a" stroke-width="0.7"/>
<rect x="351.95" y="393.40" width="2.68" height="43.60" fill="#404040" stroke="#0a0a0a" stroke-width="0.7"/>
<rect x="354.62" y="401.40" width="2.68" height="35.60" fill="#404040" stroke="#0a0a0a" stroke-width="0.7"/>
<rect x="357.30" y="403.00" width="2.68" height="34.00" fill="#404040" stroke="#0a0a0a" stroke-width="0.7"/>
<rect x="359.98" y="412.40" width="2.68" height="24.60" fill="#404040" stroke="#0a0a0a" stroke-width="0.7"/>
<rect x="362.65" y="414.60" width="2.68" height="22.40" fill="#404040" stroke="#0a0a0a" stroke-width="0.7"/>
<rect x="365.33" y="418.30" width="2.68" height="18.70" fill="#404040" stroke="#0a0a0a" stroke-width="0.7"/>
<rect x="368.00" y="418.70" width="2.68" height="18.30" fill="#404040" stroke="#0a0a0a" stroke-width="0.7"/>
<rect x="370.68" y="423.10" width="2.68" height="13.90" fill="#404040" stroke="#0a0a0a" stroke-width="0.7"/>
<rect x="373.36" y="425.70" width="2.68" height="11.30" fill="#404040" stroke="#0a0a0a" stroke-width="0.7"/>
<rect x="376.03" y="425.70" width="2.68" height="11.30" fill="#404040" stroke="#0a0a0a" stroke-width="0.7"/>
<rect x="378.71" y="427.20" width="2.68" height="9.80" fill="#404040" stroke="#0a0a0a" stroke-width="0.7"/>
<rect x="381.38" y="431.30" width="2.68" height="5.70" fill="#404040" stroke="#0a0a0a" stroke-width="0.7"/>
<rect x="384.10" y="434.60" width="0.90" height="2.40" fill="#404040" stroke="#0a0a0a" stroke-width="0.7"/>
<rect x="289.10" y="341.00" width="96.20" height="96.00" fill="none" stroke="#1a1a1a" stroke-width="1.4"/>
<text x="286.60" y="362.10" font-size="10.0" text-anchor="end" fill="#1a1a1a">0.08</text>
<text x="286.60" y="380.80" font-size="10.0" text-anchor="end" fill="#1a1a1a">0.06</text>
<text x="286.60" y="399.90" font-size="10.0" text-anchor="end" fill="#1a1a1a">0.04</text>
<text x="286.60" y="419.20" font-size="10.0" text-anchor="end" fill="#1a1a1a">0.02</text>
<text x="286.60" y="439.00" font-size="10.0" text-anchor="end" fill="#1a1a1a">0</text>
<text x="301.20" y="446.70" font-size="9.4" text-anchor="middle" fill="#1a1a1a">-150</text>
<text x="323.80" y="446.70" font-size="9.4" text-anchor="middle" fill="#1a1a1a">-50</text>
<text x="336.60" y="446.70" font-size="9.4" text-anchor="middle" fill="#1a1a1a">0</text>
<text x="349.00" y="446.70" font-size="9.4" text-anchor="middle" fill="#1a1a1a">50</text>
<text x="373.90" y="446.70" font-size="9.4" text-anchor="middle" fill="#1a1a1a">150</text>
<rect x="417.90" y="434.00" width="0.70" height="2.40" fill="#404040" stroke="#0a0a0a" stroke-width="0.7"/>
<rect x="418.60" y="426.40" width="2.65" height="10.00" fill="#404040" stroke="#0a0a0a" stroke-width="0.7"/>
<rect x="421.25" y="419.20" width="2.65" height="17.20" fill="#404040" stroke="#0a0a0a" stroke-width="0.7"/>
<rect x="423.90" y="415.30" width="2.65" height="21.10" fill="#404040" stroke="#0a0a0a" stroke-width="0.7"/>
<rect x="426.55" y="410.10" width="2.65" height="26.30" fill="#404040" stroke="#0a0a0a" stroke-width="0.7"/>
<rect x="429.20" y="411.60" width="2.65" height="24.80" fill="#404040" stroke="#0a0a0a" stroke-width="0.7"/>
<rect x="431.85" y="408.30" width="2.65" height="28.10" fill="#404040" stroke="#0a0a0a" stroke-width="0.7"/>
<rect x="434.50" y="410.10" width="2.65" height="26.30" fill="#404040" stroke="#0a0a0a" stroke-width="0.7"/>
<rect x="437.15" y="408.90" width="2.65" height="27.50" fill="#404040" stroke="#0a0a0a" stroke-width="0.7"/>
<rect x="439.80" y="405.20" width="2.65" height="31.20" fill="#404040" stroke="#0a0a0a" stroke-width="0.7"/>
<rect x="442.45" y="401.90" width="2.65" height="34.50" fill="#404040" stroke="#0a0a0a" stroke-width="0.7"/>
<rect x="445.10" y="403.10" width="2.65" height="33.30" fill="#404040" stroke="#0a0a0a" stroke-width="0.7"/>
<rect x="447.75" y="395.30" width="2.65" height="41.10" fill="#404040" stroke="#0a0a0a" stroke-width="0.7"/>
<rect x="450.40" y="400.20" width="2.65" height="36.20" fill="#404040" stroke="#0a0a0a" stroke-width="0.7"/>
<rect x="453.05" y="399.20" width="2.65" height="37.20" fill="#404040" stroke="#0a0a0a" stroke-width="0.7"/>
<rect x="455.70" y="405.20" width="2.65" height="31.20" fill="#404040" stroke="#0a0a0a" stroke-width="0.7"/>
<rect x="458.35" y="405.40" width="2.65" height="31.00" fill="#404040" stroke="#0a0a0a" stroke-width="0.7"/>
<rect x="461.00" y="418.80" width="2.65" height="17.60" fill="#404040" stroke="#0a0a0a" stroke-width="0.7"/>
<rect x="463.65" y="432.80" width="2.65" height="3.60" fill="#404040" stroke="#0a0a0a" stroke-width="0.7"/>
<rect x="466.30" y="420.90" width="2.65" height="15.50" fill="#404040" stroke="#0a0a0a" stroke-width="0.7"/>
<rect x="468.95" y="410.90" width="2.65" height="25.50" fill="#404040" stroke="#0a0a0a" stroke-width="0.7"/>
<rect x="471.60" y="401.30" width="2.65" height="35.10" fill="#404040" stroke="#0a0a0a" stroke-width="0.7"/>
<rect x="474.25" y="397.60" width="2.65" height="38.80" fill="#404040" stroke="#0a0a0a" stroke-width="0.7"/>
<rect x="476.90" y="397.60" width="2.65" height="38.80" fill="#404040" stroke="#0a0a0a" stroke-width="0.7"/>
<rect x="479.55" y="406.20" width="2.65" height="30.20" fill="#404040" stroke="#0a0a0a" stroke-width="0.7"/>
<rect x="482.20" y="403.10" width="2.65" height="33.30" fill="#404040" stroke="#0a0a0a" stroke-width="0.7"/>
<rect x="484.85" y="405.40" width="2.65" height="31.00" fill="#404040" stroke="#0a0a0a" stroke-width="0.7"/>
<rect x="487.50" y="409.50" width="2.65" height="26.90" fill="#404040" stroke="#0a0a0a" stroke-width="0.7"/>
<rect x="490.15" y="409.50" width="2.65" height="26.90" fill="#404040" stroke="#0a0a0a" stroke-width="0.7"/>
<rect x="492.80" y="407.70" width="2.65" height="28.70" fill="#404040" stroke="#0a0a0a" stroke-width="0.7"/>
<rect x="495.45" y="414.40" width="2.65" height="22.00" fill="#404040" stroke="#0a0a0a" stroke-width="0.7"/>
<rect x="498.10" y="411.60" width="2.65" height="24.80" fill="#404040" stroke="#0a0a0a" stroke-width="0.7"/>
<rect x="500.75" y="412.40" width="2.65" height="24.00" fill="#404040" stroke="#0a0a0a" stroke-width="0.7"/>
<rect x="503.40" y="416.30" width="2.65" height="20.10" fill="#404040" stroke="#0a0a0a" stroke-width="0.7"/>
<rect x="506.05" y="420.00" width="2.65" height="16.40" fill="#404040" stroke="#0a0a0a" stroke-width="0.7"/>
<rect x="508.70" y="425.60" width="2.65" height="10.80" fill="#404040" stroke="#0a0a0a" stroke-width="0.7"/>
<rect x="511.30" y="434.00" width="0.80" height="2.40" fill="#404040" stroke="#0a0a0a" stroke-width="0.7"/>
<rect x="417.30" y="341.60" width="95.40" height="94.80" fill="none" stroke="#1a1a1a" stroke-width="1.4"/>
<text x="414.80" y="362.60" font-size="10.0" text-anchor="end" fill="#1a1a1a">0.08</text>
<text x="414.80" y="382.30" font-size="10.0" text-anchor="end" fill="#1a1a1a">0.06</text>
<text x="414.80" y="401.10" font-size="10.0" text-anchor="end" fill="#1a1a1a">0.04</text>
<text x="414.80" y="420.50" font-size="10.0" text-anchor="end" fill="#1a1a1a">0.02</text>
<text x="414.80" y="440.20" font-size="10.0" text-anchor="end" fill="#1a1a1a">0</text>
<text x="428.50" y="446.70" font-size="9.4" text-anchor="middle" fill="#1a1a1a">-150</text>
<text x="452.20" y="446.70" font-size="9.4" text-anchor="middle" fill="#1a1a1a">-50</text>
<text x="464.80" y="446.70" font-size="9.4" text-anchor="middle" fill="#1a1a1a">0</text>
<text x="477.50" y="446.70" font-size="9.4" text-anchor="middle" fill="#1a1a1a">50</text>
<text x="503.90" y="446.70" font-size="9.4" text-anchor="middle" fill="#1a1a1a">150</text>
<text x="261.30" y="390.00" font-size="12.5" text-anchor="middle" fill="#1a1a1a" textLength="103.60" lengthAdjust="spacingAndGlyphs" transform="rotate(-90 261.30 390.00)">Relative frequency</text>
<text x="333.60" y="462.70" font-size="12.3" text-anchor="start" fill="#1a1a1a" textLength="145.20" lengthAdjust="spacingAndGlyphs">Change in cell direction (º)</text>
</svg>
</body></html>
